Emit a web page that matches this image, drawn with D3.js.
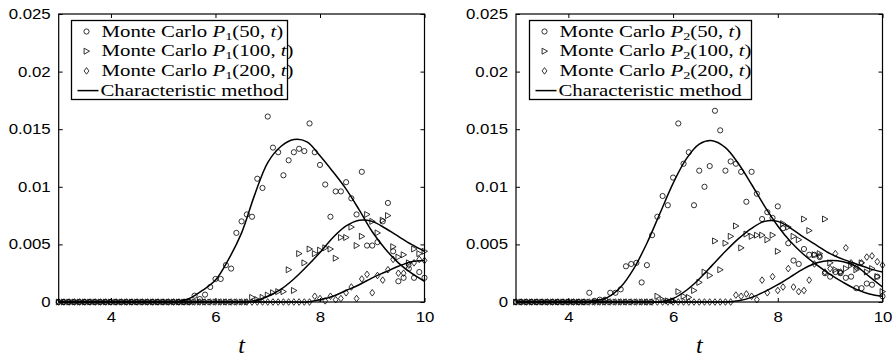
<!DOCTYPE html>
<html>
<head>
<meta charset="utf-8">
<script src="https://cdn.jsdelivr.net/npm/d3@7"></script>
<style>
  body { margin: 0; background: #fff; }
  svg { display: block; }
  .tick text { font-family: "Liberation Sans", Arial, sans-serif; font-size: 14px; fill: #000; }
  .legend text { font-family: "Liberation Serif", "Times New Roman", serif; font-size: 16px; }
</style>
</head>
<body>
<svg id="chart" width="896" height="357"></svg>
<script>
// sample times of the Monte Carlo runs
const times = [3.0,3.1,3.2,3.3,3.4,3.5,3.6,3.7,3.8,3.9,4.0,4.1,4.2,4.3,4.4,4.5,4.6,4.7,4.8,4.9,
  5.0,5.1,5.2,5.3,5.4,5.5,5.6,5.7,5.8,5.9,6.0,6.1,6.2,6.3,6.4,6.5,6.6,6.7,6.8,6.9,
  7.0,7.1,7.2,7.3,7.4,7.5,7.6,7.7,7.8,7.9,8.0,8.1,8.2,8.3,8.4,8.5,8.6,8.7,8.8,8.9,
  9.0,9.1,9.2,9.3,9.4,9.5,9.6,9.7,9.8,9.9,10.0];

// Monte Carlo P1(n,t)
const p1mc50 = [0,0,0,0,0,0,0,0,0,0, 0,0,0,0,0,0,0,0,0,0, 0,0,0,0,0,0,
  0.00055,0.00026,0.00064,0.0013,0.0020,
  0.0020,0.0032,0.0029,0.0060,0.0070,0.0076,0.0074,0.0107,0.0099,0.0161,
  0.0134,0.0130,0.0110,0.0123,0.0130,0.0133,0.0131,0.0155,0.0130,0.0119,
  0.0102,0.0074,0.0096,0.0096,0.0104,0.0090,0.0076,0.0113,0.0049,0.0049,
  0.0052,0.0070,0.0086,0.0044,0.0018,0.0021,0.0029,0.0021,0.0026,0.0021];
const p1mc100 = [0,0,0,0,0,0,0,0,0,0, 0,0,0,0,0,0,0,0,0,0, 0,0,0,0,0,0,0,0,0,0, 0,0,0,0,0,0,0,
  0.0004,0.0002,0.0004,0.0006,
  0.0008,0.0009,0.0009,0.0028,0.0010,0.0042,0.0034,0.0046,0.0042,0.0045,
  0.0047,0.0046,0.0038,0.0056,0.0056,0.0065,0.0049,0.0057,0.0076,0.0070,
  0.0060,0.0071,0.0075,0.0048,0.0039,0.0041,0.0034,0.0046,0.0042,0.0044];
const p1mc200 = [0,0,0,0,0,0,0,0,0,0, 0,0,0,0,0,0,0,0,0,0, 0,0,0,0,0,0,0,0,0,0,
  0,0,0,0,0,0,0,0,0,0, 0,0,0,0,0,0,0,0,0,
  0.0005,0.0003,
  0.0001,0.0005,0.0002,0.0003,0.0008,0.0013,0.0003,0.0020,0.0024,0.0008,
  0.0023,0.0019,0.0028,0.0037,0.0025,0.0025,0.0032,0.0034,0.0037,0.0036];

// Monte Carlo P2(n,t)
const p2mc50 = [0,0,0,0,0,0,0,0,0,0, 0,0,0,0,
  0.0008,0.0001,0.0002,0.0002,0.0008,0.0008,0.0011,
  0.0031,0.0033,0.0034,0.0017,0.0032,0.0058,0.0074,0.0092,0.0084,0.0108,
  0.0155,0.0120,0.0130,0.0084,0.0114,0.0100,0.0118,0.0166,0.0149,0.0114,
  0.0122,0.0120,0.0113,0.0087,0.0113,0.0094,0.0072,0.0078,0.0073,0.0083,
  0.0064,0.0051,0.0036,0.0033,0.0046,0.0041,0.0041,0.0039,0.0025,0.0022,
  0.0026,0.0025,0.0021,0.0022,0.0012,0.0012,0.0016,0.0015,0.0022,0.0005];
const p2mc100 = [0,0,0,0,0,0,0,0,0,0, 0,0,0,0,0,0,0,0,0,0, 0,0,0,0,0,0,0,
  0.0005,0.0002,0.0001,0.0001,
  0.0009,0.0005,0.0004,0.0010,0.0017,0.0026,0.0023,0.0053,0.0028,0.0051,
  0.0057,0.0066,0.0047,0.0059,0.0057,0.0058,0.0058,0.0054,0.0058,0.0044,
  0.0068,0.0065,0.0057,0.0054,0.0072,0.0062,0.0041,0.0042,0.0072,0.0034,
  0.0028,0.0026,0.0029,0.0032,0.0028,0.0034,0.0026,0.0029,0.0022,0.0009];
const p2mc200 = [0,0,0,0,0,0,0,0,0,0, 0,0,0,0,0,0,0,0,0,0, 0,0,0,0,0,0,0,0,0,0,
  0,0,0,0,0,0,0,0,0,0, 0,0,
  0.0006,0.0005,0.0007,0.0005,0.0002,0.0019,0.0008,0.0022,0.0010,
  0.0013,0.0029,0.0013,0.0009,0.0010,0.0019,0.0033,0.0040,0.0026,0.0029,
  0.0042,0.0026,0.0047,0.0034,0.0030,0.0034,0.0039,0.0040,0.0035,0.0032];

// characteristic method curves, read at these times
const knots = [3,3.25,3.5,3.75,4,4.25,4.5,4.75,5,5.25,5.5,5.75,6,6.25,6.5,6.75,7,7.25,7.5,7.75,
  8,8.25,8.5,8.75,9,9.25,9.5,9.75,10];
const p1ch50 = [0,0,0,0,0,0,0,0,0,0,
  0.0003,0.0010,0.0019,0.0037,0.0060,0.0093,0.0121,0.0135,0.0141,0.0139,
  0.0127,0.0113,0.0098,0.0080,0.0061,0.0046,0.0034,0.0025,0.0018];
const p1ch100 = [0,0,0,0,0,0,0,0,0,0,0,0,0,0,0,
  0.0001,0.0005,0.0011,0.0020,0.0031,0.0043,0.0056,0.0066,0.0071,0.0070,0.0064,0.0057,0.0050,0.0044];
const p1ch200 = [0,0,0,0,0,0,0,0,0,0,0,0,0,0,0,0,0,0,0,0,
  0.0002,0.0005,0.0010,0.0015,0.0021,0.0026,0.0031,0.0035,0.0036];
const p2ch50 = [0,0,0,0,0,0,
  0.0001,0.0004,0.0013,0.0029,0.0051,0.0077,0.0103,0.0124,0.0137,0.0140,0.0134,0.0120,
  0.0102,0.0083,0.0066,0.0052,0.0041,0.0032,0.0024,0.0017,0.0011,0.0007,0.0005];
const p2ch100 = [0,0,0,0,0,0,0,0,0,0,0,0,
  0.0003,0.0010,0.0020,0.0032,0.0044,0.0055,0.0064,0.0070,0.0070,0.0064,0.0056,0.0049,
  0.0042,0.0037,0.0033,0.0029,0.0026];
const p2ch200 = [0,0,0,0,0,0,0,0,0,0,0,0,0,0,0,0,0,
  0.0001,0.0004,0.0009,0.0015,0.0022,0.0029,0.0034,0.0036,0.0035,0.0031,0.0022,0.0013];

const xTicks = [4, 6, 8, 10];
const yTicks = [0, 0.005, 0.01, 0.015, 0.02, 0.025];
const sizes = ["50", "100", "200"];
const markers = ["circle", "triangle", "diamond"];

const svg = d3.select("#chart");

const plotTop = 14, plotBottom = 302;
const y = d3.scaleLinear().domain([0, 0.025]).range([plotBottom, plotTop]);

function markerPath(kind) {
  if (kind === "triangle") return "M-2.4,-3L3,0L-2.4,3Z";
  if (kind === "diamond") return "M0,-3.3L2.4,0L0,3.3L-2.4,0Z";
  return d3.symbol(d3.symbolCircle, Math.PI * 2.6 * 2.6)();
}

// the figure is a little wider than its fonts, so stretch the text sideways
function widen(sel, f) {
  sel.each(function() {
    const w = this.getComputedTextLength();
    this.setAttribute("textLength", w * f);
    this.setAttribute("lengthAdjust", "spacingAndGlyphs");
  });
}

const legendBoxes = [];

function panel(left, right, sub, mc, ch, legendW) {
  const x = d3.scaleLinear().domain([3, 10]).range([left, right]);
  const g = svg.append("g");

  // Monte Carlo markers
  mc.forEach((vals, k) => {
    g.append("g").selectAll("path")
      .data(times.map((t, i) => [t, vals[i]]))
      .join("path")
      .attr("transform", d => `translate(${x(d[0])},${y(d[1])})`)
      .attr("d", markerPath(markers[k]))
      .attr("fill", "none")
      .attr("stroke", "#000")
      .attr("stroke-width", 0.8);
  });

  // characteristic method curves
  const line = d3.line().x(d => x(d[0])).y(d => Math.min(y(d[1]), plotBottom))
    .curve(d3.curveCatmullRom.alpha(0.5));
  ch.forEach(vals => {
    g.append("path")
      .attr("d", line(knots.map((t, i) => [t, vals[i]])))
      .attr("fill", "none")
      .attr("stroke", "#000")
      .attr("stroke-width", 1.5);
  });

  // axes, MATLAB style: ticks inside on all four sides
  const ax = g.append("g").attr("transform", `translate(0,${plotBottom})`)
    .call(d3.axisBottom(x).tickValues(xTicks).tickSizeInner(-4).tickSizeOuter(0).tickPadding(10)
      .tickFormat(d => String(d)));
  const ay = g.append("g").attr("transform", `translate(${left},0)`)
    .call(d3.axisLeft(y).tickValues(yTicks).tickSizeInner(-4).tickSizeOuter(0).tickPadding(8)
      .tickFormat(d => String(+d.toFixed(3))));
  g.append("g").attr("transform", `translate(0,${plotTop})`)
    .call(d3.axisTop(x).tickValues(xTicks).tickSizeInner(-4).tickSizeOuter(0).tickFormat(""));
  g.append("g").attr("transform", `translate(${right},0)`)
    .call(d3.axisRight(y).tickValues(yTicks).tickSizeInner(-4).tickSizeOuter(0).tickFormat(""));
  g.selectAll(".domain").remove();
  g.selectAll(".tick line").attr("stroke", "#000");
  widen(ax.selectAll("text"), 1.2);
  widen(ay.selectAll("text"), 1.2);

  g.append("rect")
    .attr("x", left).attr("y", plotTop)
    .attr("width", right - left).attr("height", plotBottom - plotTop)
    .attr("fill", "none").attr("stroke", "#000").attr("stroke-width", 1.2);

  g.append("text")
    .attr("x", (left + right) / 2).attr("y", 353)
    .attr("text-anchor", "middle")
    .attr("font-family", "Liberation Serif, serif")
    .attr("font-style", "italic")
    .attr("font-size", 24)
    .text("t");

  // legend
  const bx = Math.round(left + 12.5) + 0.5, by = 20.5, rowH = 19.7;
  legendBoxes.push([bx, by, legendW, 79]);
  const lg = g.append("g").attr("class", "legend");
  lg.append("rect")
    .attr("x", bx).attr("y", by).attr("width", legendW).attr("height", 79)
    .attr("fill", "#fff");

  sizes.forEach((n, k) => {
    const cy = by + 11 + k * rowH;
    lg.append("path")
      .attr("transform", `translate(${bx + 15},${cy})`)
      .attr("d", markerPath(markers[k]))
      .attr("fill", "none").attr("stroke", "#000").attr("stroke-width", 0.8);
    const t = lg.append("text").attr("x", bx + 30).attr("y", cy + 5);
    t.append("tspan").text("Monte Carlo ");
    t.append("tspan").attr("font-style", "italic").text("P");
    t.append("tspan").attr("font-size", 11).attr("dy", 3).text(sub);
    t.append("tspan").attr("dy", -3).text(`(${n}, `);
    t.append("tspan").attr("font-style", "italic").text("t");
    t.append("tspan").text(")");
  });
  const cy4 = by + 11 + 3 * rowH;
  lg.append("line")
    .attr("x1", bx + 6).attr("x2", bx + 27).attr("y1", cy4).attr("y2", cy4)
    .attr("stroke", "#000").attr("stroke-width", 1.5);
  lg.append("text").attr("x", bx + 29).attr("y", cy4 + 5).text("Characteristic method");
  widen(lg.selectAll("text"), 1.3);
}

panel(58.7, 424.5, "1", [p1mc50, p1mc100, p1mc200], [p1ch50, p1ch100, p1ch200], 216);
panel(516, 882.5, "2", [p2mc50, p2mc100, p2mc200], [p2ch50, p2ch100, p2ch200], 222);

// legend frames, drawn last so nothing covers them
svg.append("g").selectAll("rect")
  .data(legendBoxes)
  .join("rect")
  .attr("x", d => d[0]).attr("y", d => d[1])
  .attr("width", d => d[2]).attr("height", d => d[3])
  .attr("fill", "none")
  .attr("stroke", "#000")
  .attr("stroke-width", 1.3);
</script>
</body>
</html>
